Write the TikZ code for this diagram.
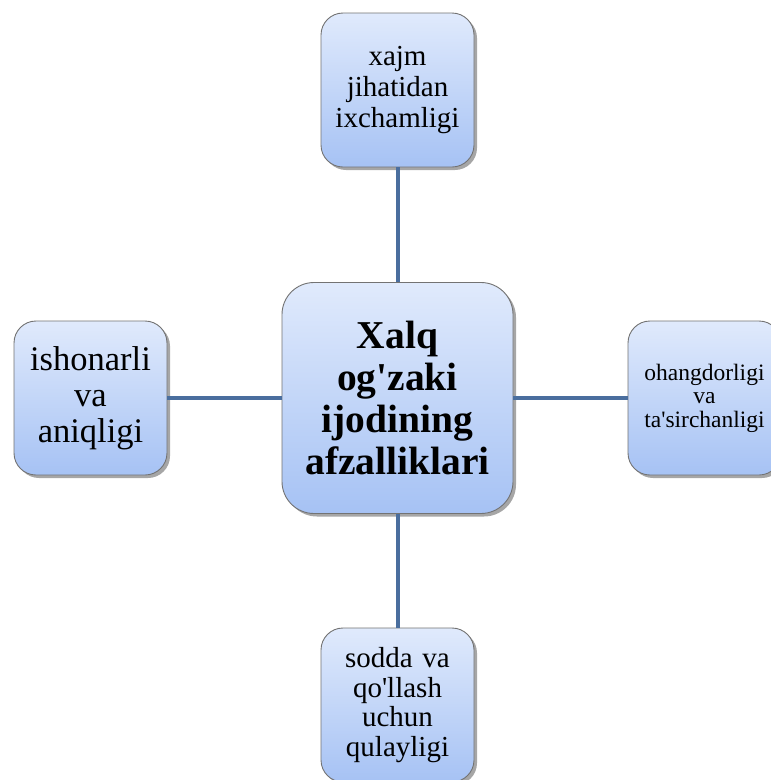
\documentclass[tikz,border=0pt]{standalone}
\usepackage{fontspec}
\setmainfont{Liberation Serif}
\usetikzlibrary{shadows}
\definecolor{connc}{HTML}{4A6E9E}
\definecolor{topc}{HTML}{E0EAFC}
\definecolor{botc}{HTML}{A6C2F4}
\tikzset{
  box/.style={draw=black!55, line width=0.9pt, rounded corners=22pt, top color=topc, bottom color=botc,
    drop shadow={shadow xshift=3pt, shadow yshift=-3pt, opacity=0.35, fill=black},
    align=center, inner sep=0pt, minimum width=153pt, minimum height=154pt, text width=150pt},
  conn/.style={draw=connc, line width=4pt},
}
\newcommand{\ap}{\textquotesingle}
\begin{document}
\begin{tikzpicture}[x=1pt,y=-1pt]
\clip (0,0) rectangle (771,780);
\fill[white] (0,0) rectangle (771,780);
\node[box, minimum width=231pt, minimum height=231pt, text width=228pt, rounded corners=32pt, font=\fontsize{39.5}{42}\selectfont\bfseries] (c) at (397.5,398) {Xalq\\og\ap zaki\\ijodining\\afzalliklari};
\node[box, font=\fontsize{29}{31}\selectfont] (t) at (397.5,90) {xajm\\jihatidan\\ixchamligi};
\node[box, font=\fontsize{34.5}{36}\selectfont] (l) at (90.5,398) {ishonarli\\va\\aniqligi};
\node[box, font=\fontsize{23.5}{23.5}\selectfont] (r) at (704.5,398) {ohangdorligi\\va\\ta\ap sirchanligi};
\node[box, font=\fontsize{29}{29.5}\selectfont] (b) at (397.5,705) {sodda va\\qo\ap llash\\uchun\\qulayligi};
\begin{scope}[on background layer/.try]
\end{scope}
\draw[conn] (t.south) -- (c.north);
\draw[conn] (c.south) -- (b.north);
\draw[conn] (l.east) -- (c.west);
\draw[conn] (c.east) -- (r.west);
\end{tikzpicture}
\end{document}
